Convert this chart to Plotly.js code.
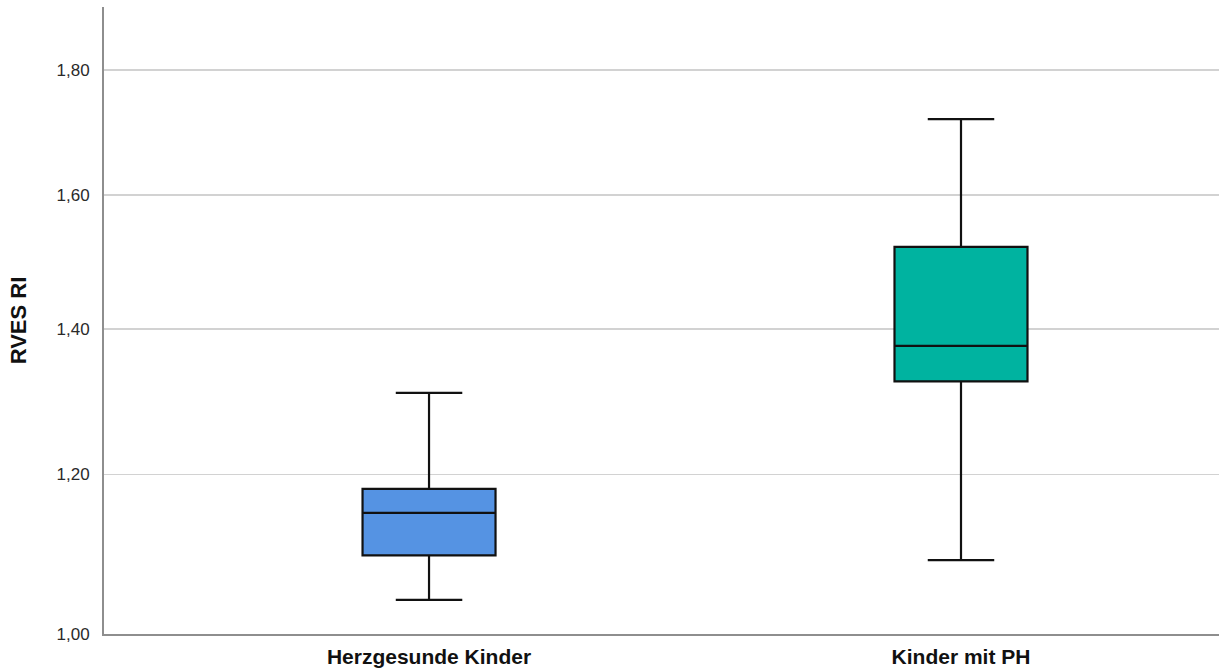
<!DOCTYPE html>
<html>
<head>
<meta charset="utf-8">
<script src="https://cdn.plot.ly/plotly-3.0.1.min.js"></script>
<style>
  html, body { margin: 0; padding: 0; background: #ffffff; }
  #chart { width: 1219px; height: 670px; }
</style>
</head>
<body>
<div id="chart"></div>
<script>
// RVES RI by group: box summaries (whisker ends, quartiles, median)
const groups = ['Herzgesunde Kinder', 'Kinder mit PH'];
const lowerWhisker = [1.041, 1.090];
const q1Values = [1.096, 1.326];
const medianValues = [1.150, 1.376];
const q3Values = [1.181, 1.521];
const upperWhisker = [1.310, 1.720];
const boxColors = ['#5593e3', '#00b3a0'];

// Value axis ticks
const yTickValues = [1.00, 1.20, 1.40, 1.60, 1.80];
const yLimits = [1.00, 1.906];

// Power-scaled value axis (exponent < 1 compresses the upper range)
const EXPONENT = 0.44;
const scalePow = v => Math.pow(v, EXPONENT);
const fmtComma = v => v.toFixed(2).replace('.', ',');

const traces = groups.map((g, i) => ({
  type: 'box',
  x: [g],
  q1: [scalePow(q1Values[i])],
  median: [scalePow(medianValues[i])],
  q3: [scalePow(q3Values[i])],
  lowerfence: [scalePow(lowerWhisker[i])],
  upperfence: [scalePow(upperWhisker[i])],
  width: 0.25,
  whiskerwidth: 0.5,
  fillcolor: boxColors[i],
  line: { color: '#111111', width: 2.2 },
  hoverinfo: 'skip',
  showlegend: false
}));

const layout = {
  width: 1219,
  height: 670,
  margin: { l: 104, r: 0, t: 7, b: 36, pad: 0 },
  paper_bgcolor: '#ffffff',
  plot_bgcolor: '#ffffff',
  font: { family: 'Liberation Sans, Arial, sans-serif', color: '#222222' },
  xaxis: {
    type: 'category',
    range: [-0.611, 1.485],
    showgrid: false,
    zeroline: false,
    showline: true,
    linecolor: '#8e8e8e',
    linewidth: 2,
    ticks: 'outside',
    ticklen: 3,
    tickcolor: 'rgba(0,0,0,0)',
    tickfont: { size: 21, color: '#111111', family: 'Liberation Sans, Arial, sans-serif', weight: 'bold' }
  },
  yaxis: {
    range: yLimits.map(scalePow),
    tickmode: 'array',
    tickvals: yTickValues.map(scalePow),
    ticktext: yTickValues.map(fmtComma),
    showgrid: true,
    gridcolor: '#d2d2d2',
    gridwidth: 1.5,
    zeroline: false,
    showline: true,
    linecolor: '#8e8e8e',
    linewidth: 2,
    ticks: 'outside',
    ticklen: 9,
    tickcolor: 'rgba(0,0,0,0)',
    tickfont: { size: 17, color: '#2a2a2a' },
    title: {
      text: 'RVES RI',
      standoff: 24,
      font: { size: 22, color: '#111111', family: 'Liberation Sans, Arial, sans-serif', weight: 'bold' }
    }
  }
};

Plotly.newPlot('chart', traces, layout, { displayModeBar: false, staticPlot: true });
</script>
</body>
</html>
